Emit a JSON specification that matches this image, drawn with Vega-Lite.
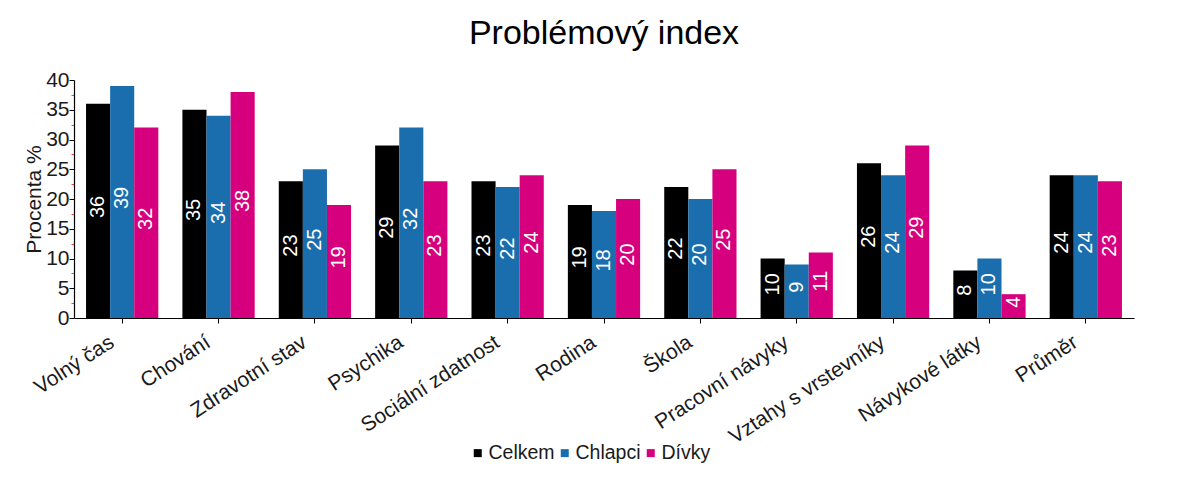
{
  "$schema": "https://vega.github.io/schema/vega-lite/v6.json",
  "width": 1060,
  "height": 238,
  "autosize": {"type": "none"},
  "padding": {"left": 74, "top": 80, "right": 51, "bottom": 161},
  "background": "white",
  "config": {
    "font": "Liberation Sans",
    "view": {"stroke": null},
    "axis": {"labelFont": "Liberation Sans", "titleFont": "Liberation Sans", "labelColor": "#1a1a1a", "titleColor": "#1a1a1a", "domainColor": "#000", "tickColor": "#000", "grid": false},
    "legend": {"labelFont": "Liberation Sans"}
  },
  "title": {"text": "Problémový index", "fontSize": 34, "font": "Liberation Sans", "fontWeight": "normal", "color": "#000", "anchor": "middle", "offset": 18},
  "data": {"values": [
    {"kategorie": "Volný čas", "skupina": "Celkem", "hodnota": 36},
    {"kategorie": "Volný čas", "skupina": "Chlapci", "hodnota": 39},
    {"kategorie": "Volný čas", "skupina": "Dívky", "hodnota": 32},
    {"kategorie": "Chování", "skupina": "Celkem", "hodnota": 35},
    {"kategorie": "Chování", "skupina": "Chlapci", "hodnota": 34},
    {"kategorie": "Chování", "skupina": "Dívky", "hodnota": 38},
    {"kategorie": "Zdravotní stav", "skupina": "Celkem", "hodnota": 23},
    {"kategorie": "Zdravotní stav", "skupina": "Chlapci", "hodnota": 25},
    {"kategorie": "Zdravotní stav", "skupina": "Dívky", "hodnota": 19},
    {"kategorie": "Psychika", "skupina": "Celkem", "hodnota": 29},
    {"kategorie": "Psychika", "skupina": "Chlapci", "hodnota": 32},
    {"kategorie": "Psychika", "skupina": "Dívky", "hodnota": 23},
    {"kategorie": "Sociální zdatnost", "skupina": "Celkem", "hodnota": 23},
    {"kategorie": "Sociální zdatnost", "skupina": "Chlapci", "hodnota": 22},
    {"kategorie": "Sociální zdatnost", "skupina": "Dívky", "hodnota": 24},
    {"kategorie": "Rodina", "skupina": "Celkem", "hodnota": 19},
    {"kategorie": "Rodina", "skupina": "Chlapci", "hodnota": 18},
    {"kategorie": "Rodina", "skupina": "Dívky", "hodnota": 20},
    {"kategorie": "Škola", "skupina": "Celkem", "hodnota": 22},
    {"kategorie": "Škola", "skupina": "Chlapci", "hodnota": 20},
    {"kategorie": "Škola", "skupina": "Dívky", "hodnota": 25},
    {"kategorie": "Pracovní návyky", "skupina": "Celkem", "hodnota": 10},
    {"kategorie": "Pracovní návyky", "skupina": "Chlapci", "hodnota": 9},
    {"kategorie": "Pracovní návyky", "skupina": "Dívky", "hodnota": 11},
    {"kategorie": "Vztahy s vrstevníky", "skupina": "Celkem", "hodnota": 26},
    {"kategorie": "Vztahy s vrstevníky", "skupina": "Chlapci", "hodnota": 24},
    {"kategorie": "Vztahy s vrstevníky", "skupina": "Dívky", "hodnota": 29},
    {"kategorie": "Návykové látky", "skupina": "Celkem", "hodnota": 8},
    {"kategorie": "Návykové látky", "skupina": "Chlapci", "hodnota": 10},
    {"kategorie": "Návykové látky", "skupina": "Dívky", "hodnota": 4},
    {"kategorie": "Průměr", "skupina": "Celkem", "hodnota": 24},
    {"kategorie": "Průměr", "skupina": "Chlapci", "hodnota": 24},
    {"kategorie": "Průměr", "skupina": "Dívky", "hodnota": 23}
  ]},
  "encoding": {
    "x": {
      "field": "kategorie", "type": "nominal", "sort": null, "title": null,
      "scale": {"paddingInner": 0.25, "paddingOuter": 0.125},
      "axis": {"labelAngle": -33, "labelFontSize": 21, "tickSize": 5, "labelPadding": 8, "labelOffset": -16, "labelLimit": 400, "domainWidth": 1.2}
    },
    "xOffset": {"field": "skupina", "type": "nominal", "sort": ["Celkem", "Chlapci", "Dívky"]}
  },
  "layer": [
    {
      "mark": {"type": "bar"},
      "encoding": {
        "y": {
          "field": "hodnota", "type": "quantitative", "title": "Procenta %",
          "scale": {"domain": [0, 40], "nice": false},
          "axis": {
            "values": [0, 2.5, 5, 7.5, 10, 12.5, 15, 17.5, 20, 22.5, 25, 27.5, 30, 32.5, 35, 37.5, 40],
            "labelExpr": "datum.value % 5 === 0 ? datum.label : ''",
            "labelOverlap": false,
            "labelFontSize": 21,
            "labelPadding": 0,
            "tickColor": {"condition": {"test": "datum.value % 5 !== 0", "value": "#ff4040"}, "value": "#000"},
            "tickSize": {"condition": {"test": "datum.value % 5 !== 0", "value": 3}, "value": 5},
            "titleFontSize": 21,
            "titleFontWeight": "normal",
            "titlePadding": 1,
            "domainWidth": 1.2
          }
        },
        "color": {
          "field": "skupina", "type": "nominal",
          "scale": {"domain": ["Celkem", "Chlapci", "Dívky"], "range": ["#000000", "#1b6eae", "#d6007e"]},
          "legend": {
            "orient": "none", "legendX": 394, "legendY": 363, "direction": "horizontal",
            "title": null, "symbolType": "square", "symbolSize": 64, "symbolStrokeWidth": 0,
            "labelFontSize": 19.5, "labelOffset": 1, "columnPadding": 0, "padding": 0, "labelColor": "#1a1a1a"
          }
        }
      }
    },
    {
      "mark": {"type": "text", "angle": 270, "align": "center", "baseline": "middle", "color": "white", "fontSize": 20, "dx": 4},
      "encoding": {
        "y": {"field": "hodnota", "type": "quantitative", "scale": {"domain": [0, 80], "nice": false}, "axis": null},
        "text": {"field": "hodnota", "type": "quantitative"}
      }
    }
  ],
  "resolve": {"scale": {"y": "independent"}}
}
